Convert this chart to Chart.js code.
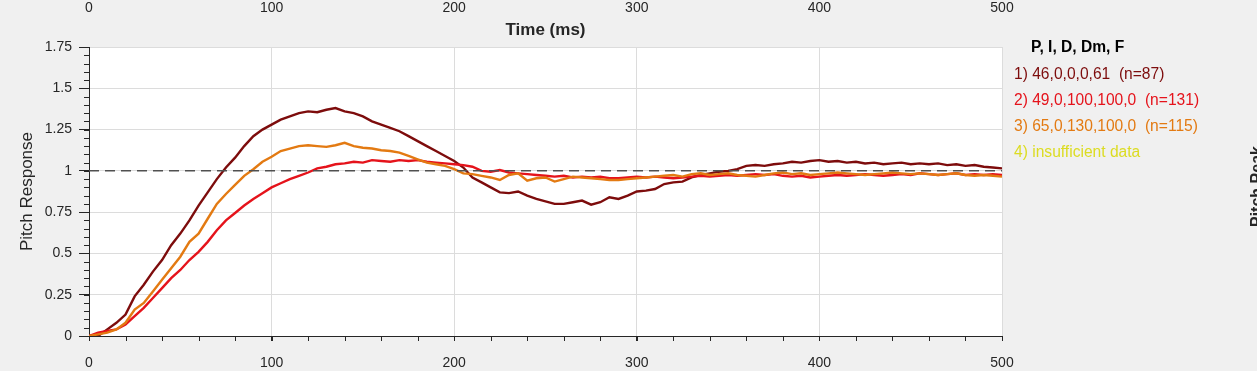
<!DOCTYPE html>
<html>
<head>
<meta charset="utf-8">
<script src="https://cdn.jsdelivr.net/npm/chart.js@4.4.1/dist/chart.umd.min.js"></script>
<style>
  html, body { margin: 0; padding: 0; background: #f0f0f0; }
  #wrap { width: 1257px; height: 371px; position: relative; }
</style>
</head>
<body>
<div id="wrap"><canvas id="stepChart" width="1257" height="371"></canvas></div>
<script>
// time axis (ms), one sample every 5 ms
const timeMs = [];
for (let t = 0; t <= 500; t += 5) timeMs.push(t);

// step responses
const resp1 = [0, 0, 0.04, 0.08, 0.13, 0.24, 0.31, 0.39, 0.46, 0.55,
  0.62, 0.70, 0.79, 0.87, 0.95, 1.02, 1.08, 1.15, 1.21, 1.25,
  1.28, 1.31, 1.33, 1.35, 1.36, 1.355, 1.37, 1.38, 1.36, 1.35,
  1.33, 1.30, 1.28, 1.26, 1.24, 1.21, 1.18, 1.15, 1.12, 1.09,
  1.06, 1.02, 0.96, 0.93, 0.90, 0.87, 0.865, 0.875, 0.85, 0.83,
  0.815, 0.80, 0.80, 0.81, 0.82, 0.795, 0.81, 0.84, 0.83, 0.85,
  0.875, 0.88, 0.89, 0.92, 0.93, 0.935, 0.96, 0.975, 0.985, 0.995,
  1.0, 1.01, 1.03, 1.035, 1.03, 1.04, 1.045, 1.055, 1.05, 1.06,
  1.065, 1.055, 1.06, 1.05, 1.055, 1.045, 1.05, 1.04, 1.045, 1.05,
  1.04, 1.045, 1.04, 1.045, 1.035, 1.04, 1.03, 1.035, 1.025, 1.02, 1.015];

const resp2 = [0, 0.02, 0.03, 0.04, 0.07, 0.12, 0.17, 0.23, 0.29, 0.35,
  0.40, 0.46, 0.51, 0.57, 0.64, 0.70, 0.745, 0.79, 0.83, 0.865,
  0.90, 0.925, 0.95, 0.97, 0.99, 1.015, 1.025, 1.04, 1.045, 1.055,
  1.05, 1.065, 1.06, 1.055, 1.065, 1.06, 1.065, 1.055, 1.05, 1.045,
  1.04, 1.035, 1.025, 1.0, 0.995, 1.005, 0.99, 0.985, 0.98, 0.975,
  0.97, 0.965, 0.97, 0.96, 0.965, 0.96, 0.965, 0.955, 0.955, 0.96,
  0.965, 0.96, 0.965, 0.96, 0.955, 0.96, 0.965, 0.97, 0.965, 0.97,
  0.975, 0.97, 0.975, 0.98, 0.975, 0.98, 0.97, 0.965, 0.97, 0.96,
  0.965, 0.97, 0.975, 0.97, 0.975, 0.98, 0.975, 0.97, 0.975, 0.98,
  0.975, 0.985, 0.98, 0.975, 0.98, 0.985, 0.975, 0.98, 0.975, 0.98, 0.975];

const resp3 = [0, 0.01, 0.02, 0.04, 0.08, 0.16, 0.20, 0.27, 0.34, 0.41,
  0.48, 0.57, 0.62, 0.71, 0.80, 0.86, 0.915, 0.97, 1.01, 1.055,
  1.085, 1.12, 1.135, 1.15, 1.155, 1.15, 1.145, 1.155, 1.17, 1.15,
  1.14, 1.135, 1.125, 1.12, 1.11, 1.09, 1.07, 1.05, 1.04, 1.03,
  1.01, 0.985, 0.98, 0.97, 0.96, 0.945, 0.975, 0.985, 0.94, 0.955,
  0.96, 0.935, 0.95, 0.965, 0.96, 0.955, 0.95, 0.945, 0.945, 0.95,
  0.955, 0.96, 0.965, 0.97, 0.975, 0.965, 0.98, 0.985, 0.975, 0.98,
  0.985, 0.975, 0.97, 0.965, 0.975, 0.985, 0.99, 0.98, 0.985, 0.975,
  0.98, 0.985, 0.99, 0.985, 0.98, 0.975, 0.98, 0.985, 0.99, 0.985,
  0.98, 0.985, 0.98, 0.975, 0.98, 0.985, 0.975, 0.97, 0.975, 0.97, 0.965];

const refTime = [0, 500];
const refLevel = [1, 1];

const legendTitle = 'P, I, D, Dm, F';
const legendLabels = ['1) 46,0,0,0,61  (n=87)', '2) 49,0,100,100,0  (n=131)',
  '3) 65,0,130,100,0  (n=115)', '4) insufficient data'];
const seriesColors = ['#7d0c0c', '#e5131b', '#e37a12', '#dcdc22'];

const xTicks = [0, 100, 200, 300, 400, 500];

const FONT = "'Liberation Sans', Arial, sans-serif";
const INK = '#262626';

const toPoints = (xs, ys) => xs.map((x, i) => ({ x: x, y: ys[i] }));

// white plot box, minor ticks, legend and the leftovers of the neighbouring panels
const decorations = {
    id: 'decorations',
    beforeDraw(chart) {
        const { ctx, chartArea: a } = chart;
        ctx.save();
        ctx.fillStyle = '#f0f0f0';
        ctx.fillRect(0, 0, chart.width, chart.height);
        ctx.fillStyle = '#ffffff';
        ctx.fillRect(a.left, a.top, a.right - a.left, a.bottom - a.top);
        ctx.restore();
    },
    afterDraw(chart) {
        const { ctx, chartArea: a } = chart;
        const xs = chart.scales.x, ys = chart.scales.y;
        ctx.save();
        ctx.strokeStyle = INK;
        ctx.lineWidth = 1;
        ctx.beginPath();
        for (let i = 0; i <= 25; i++) {
            const px = Math.round(xs.getPixelForValue(i * 20)) + 0.5;
            ctx.moveTo(px, a.bottom);
            ctx.lineTo(px, a.bottom + 5);
        }
        for (let i = 0; i <= 35; i++) {
            const py = Math.round(ys.getPixelForValue(i * 0.05)) + 0.5;
            ctx.moveTo(a.left, py);
            ctx.lineTo(a.left - 5, py);
        }
        ctx.stroke();

        // top panel remains: its tick labels and x title
        ctx.fillStyle = INK;
        ctx.font = '14px ' + FONT;
        ctx.textAlign = 'center';
        ctx.textBaseline = 'middle';
        xTicks.forEach(v => ctx.fillText(String(v), xs.getPixelForValue(v), 8));
        ctx.font = 'bold 17px ' + FONT;
        ctx.fillText('Time (ms)', (a.left + a.right) / 2, 30);

        // legend
        ctx.textAlign = 'left';
        ctx.fillStyle = '#000000';
        ctx.font = 'bold 15.6px ' + FONT;
        ctx.fillText(legendTitle, 1031, 48);
        ctx.font = '15.6px ' + FONT;
        legendLabels.forEach((txt, i) => {
            ctx.fillStyle = seriesColors[i];
            ctx.fillText(txt, 1014, 75 + i * 26);
        });

        // right panel label, mostly off-canvas
        ctx.translate(1262, 227);
        ctx.rotate(-Math.PI / 2);
        ctx.textAlign = 'left';
        ctx.textBaseline = 'alphabetic';
        ctx.fillStyle = INK;
        ctx.font = 'bold 16px ' + FONT;
        ctx.fillText('Pitch Peak', 0, 0);
        ctx.restore();
    }
};

const lineSet = (label, ys, color) => ({
    label: label,
    data: toPoints(timeMs, ys),
    borderColor: color,
    borderWidth: 2.4,
    pointRadius: 0,
    tension: 0,
    order: 1
});

new Chart(document.getElementById('stepChart'), {
    type: 'line',
    data: {
        datasets: [
            {
                label: 'target',
                data: toPoints(refTime, refLevel),
                borderColor: '#505050',
                borderWidth: 1.5,
                borderDash: [10, 6],
                pointRadius: 0,
                order: 0
            },
            lineSet(legendLabels[2], resp3, seriesColors[2]),
            lineSet(legendLabels[1], resp2, seriesColors[1]),
            lineSet(legendLabels[0], resp1, seriesColors[0])
        ]
    },
    options: {
        responsive: false,
        animation: false,
        devicePixelRatio: 1,
        layout: { padding: { top: 47, right: 255, left: 0, bottom: 0 } },
        plugins: { legend: { display: false }, tooltip: { enabled: false } },
        scales: {
            x: {
                type: 'linear',
                min: 0,
                max: 500,
                afterFit: s => { s.height = 35; },
                ticks: { stepSize: 100, color: INK, font: { family: FONT, size: 14 }, padding: 14, maxRotation: 0 },
                grid: { color: '#dcdcdc', tickColor: INK, tickLength: 5 },
                border: { color: INK, width: 1 }
            },
            y: {
                min: 0,
                max: 1.75,
                afterFit: s => { s.width = 89; },
                ticks: { stepSize: 0.25, color: INK, font: { family: FONT, size: 14 }, padding: 7,
                         callback: v => String(Math.round(v * 100) / 100) },
                grid: { color: '#dcdcdc', tickColor: INK, tickLength: 10 },
                border: { color: INK, width: 1 },
                title: { display: true, text: 'Pitch Response', color: INK,
                         font: { family: FONT, size: 17 }, padding: { top: 17, bottom: 0 } }
            }
        }
    },
    plugins: [decorations]
});
</script>
</body>
</html>
